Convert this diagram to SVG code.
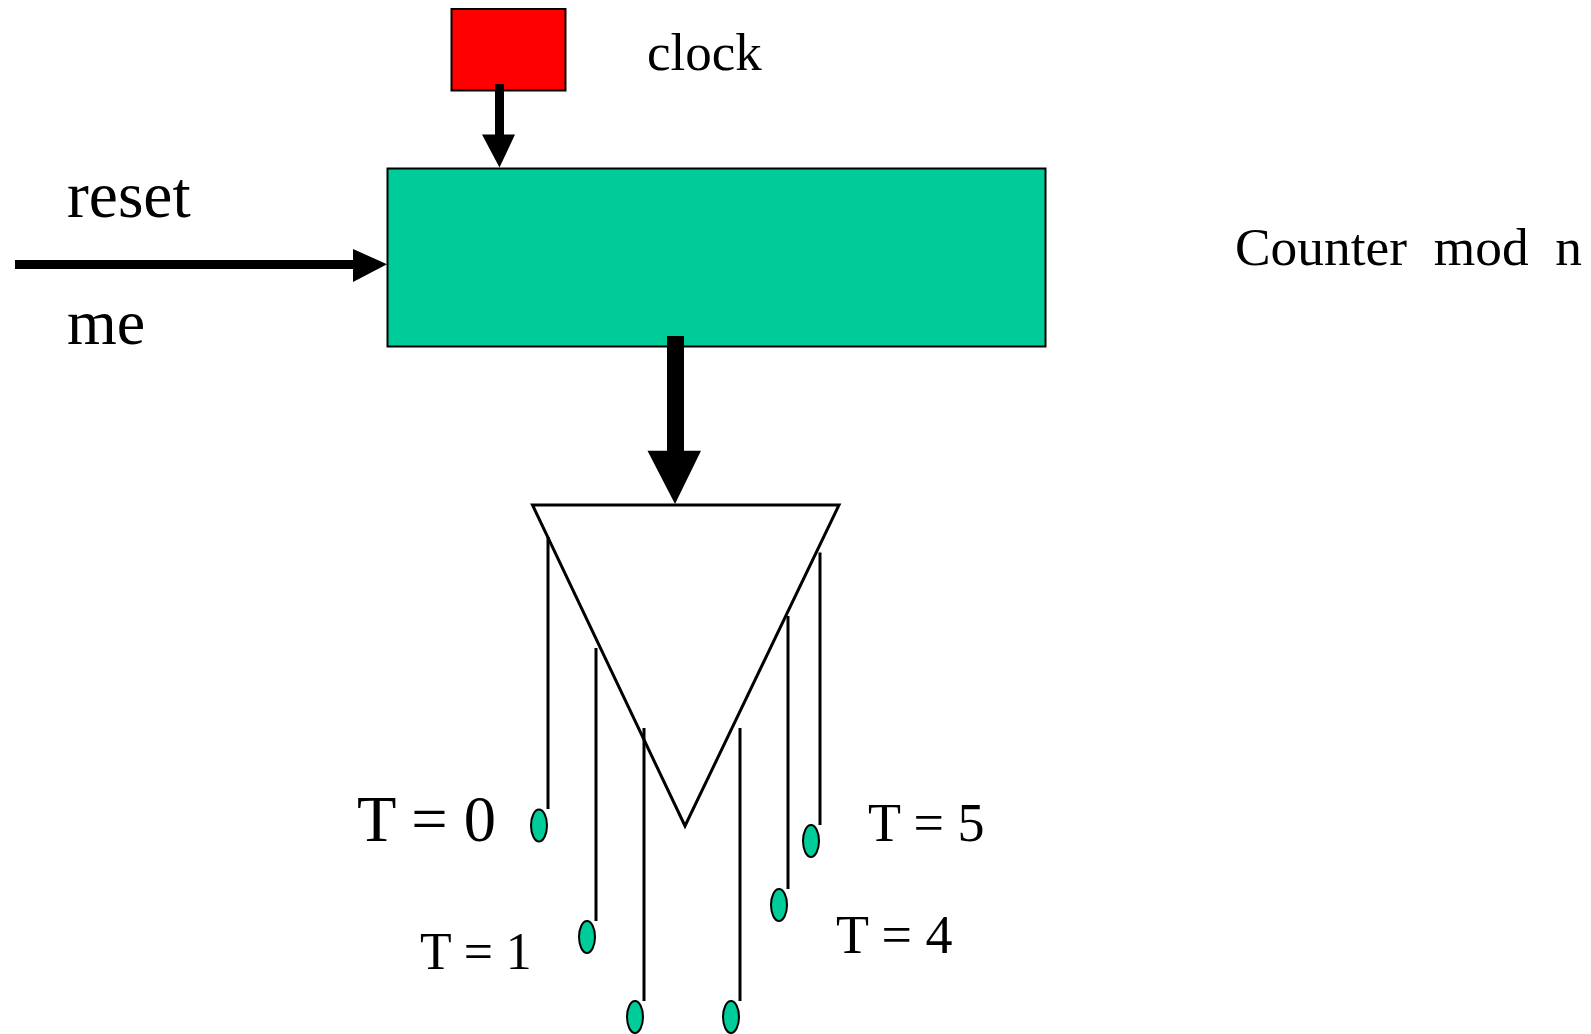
<svg xmlns="http://www.w3.org/2000/svg" width="1591" height="1034" viewBox="0 0 1591 1034">
<style>
text{font-family:"Liberation Serif","Times New Roman",serif;fill:#000;white-space:pre}
.box{stroke:#000;stroke-width:2}
.green{fill:#00CC99}
.wire{stroke:#000;stroke-width:3;fill:none}
.head{fill:#000;stroke:none}
</style>
<rect width="1591" height="1034" fill="#fff"/>
<g id="clock-source"><rect class="box" x="451.500" y="9" width="114" height="81.500" fill="#FF0000"/></g>
<g id="clock-label"><text x="647" y="70" font-size="53">clock</text></g>
<g id="counter"><rect class="box green" x="387.500" y="168.500" width="658" height="178"/></g>
<g id="counter-label"><text x="1235" y="265" font-size="53.400">Counter  mod  n</text></g>
<g id="reset-label"><text x="67" y="216.500" font-size="65.500">reset</text></g>
<g id="me-label"><text x="67" y="344" font-size="64">me</text></g>
<g id="decoder"><path d="M532.500 505H839L685 826Z" fill="#fff" stroke="#000" stroke-width="3" stroke-linejoin="miter"/></g>
<g id="connectors">
<path class="head" d="M495 84h9v50.500h11L499.500 167.500 482 134.500h13Z"/>
<path class="head" d="M15 260h338v-11l34 15.200-34 17.800v-13H15Z"/>
<path class="head" d="M667 336h17v114.700h17L675 504 647.500 450.700H667Z"/>
<path class="wire" d="M548 537V809M596 648V921M644 728V1001M740 728V1001M788 616V889M820 552.500V825"/>
</g>
<g id="output-0"><ellipse class="box green" cx="539" cy="825.500" rx="8" ry="16"/></g>
<g id="output-1"><ellipse class="box green" cx="587" cy="937" rx="8" ry="16"/></g>
<g id="output-2"><ellipse class="box green" cx="635" cy="1017" rx="8" ry="16"/></g>
<g id="output-3"><ellipse class="box green" cx="731" cy="1017" rx="8" ry="16"/></g>
<g id="output-4"><ellipse class="box green" cx="779" cy="905" rx="8" ry="16"/></g>
<g id="output-5"><ellipse class="box green" cx="811" cy="841" rx="8" ry="16"/></g>
<g id="t0-label"><text x="357" y="841" font-size="64.500">T = 0</text></g>
<g id="t1-label"><text x="420" y="969" font-size="51.800">T = 1</text></g>
<g id="t4-label"><text x="836" y="952.500" font-size="54">T = 4</text></g>
<g id="t5-label"><text x="868" y="841" font-size="54">T = 5</text></g>
</svg>
